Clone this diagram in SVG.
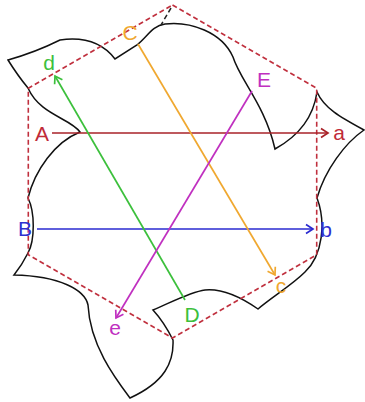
<svg xmlns="http://www.w3.org/2000/svg" width="365" height="402" viewBox="0 0 365 402">
<defs>
<style>
.lbl{font-family:"Liberation Sans",Arial,sans-serif;font-size:21px;text-anchor:middle}
.ln{fill:none;stroke-width:1.7}
</style>
<marker id="mA" markerUnits="userSpaceOnUse" markerWidth="12" markerHeight="12" refX="0" refY="0" viewBox="-9 -6 12 12" orient="auto"><path d="M-7,-4.5 L0,0 L-7,4.5" fill="none" stroke="#a82228" stroke-width="1.7"/></marker>
<marker id="mB" markerUnits="userSpaceOnUse" markerWidth="12" markerHeight="12" refX="0" refY="0" viewBox="-9 -6 12 12" orient="auto"><path d="M-7,-4.5 L0,0 L-7,4.5" fill="none" stroke="#2a2ad0" stroke-width="1.7"/></marker>
<marker id="mC" markerUnits="userSpaceOnUse" markerWidth="12" markerHeight="12" refX="0" refY="0" viewBox="-9 -6 12 12" orient="auto"><path d="M-7,-4.5 L0,0 L-7,4.5" fill="none" stroke="#f0a830" stroke-width="1.7"/></marker>
<marker id="mD" markerUnits="userSpaceOnUse" markerWidth="12" markerHeight="12" refX="0" refY="0" viewBox="-9 -6 12 12" orient="auto"><path d="M-7,-4.5 L0,0 L-7,4.5" fill="none" stroke="#3cc03c" stroke-width="1.7"/></marker>
<marker id="mE" markerUnits="userSpaceOnUse" markerWidth="12" markerHeight="12" refX="0" refY="0" viewBox="-9 -6 12 12" orient="auto"><path d="M-7,-4.5 L0,0 L-7,4.5" fill="none" stroke="#c030c0" stroke-width="1.7"/></marker>
</defs>
<rect width="365" height="402" fill="#ffffff"/>
<g id="outline">
<path fill="none" stroke="#111" stroke-width="1.5" d="M8,60 Q36,52 60,40 C88,36 105,46 115,59 L137,45 C148,36 152,26 165,24 C190,21 222,32 233,57 C240,80 265,105 275,149 C295,138 313,120 317,92 C324,108 340,117 364,130 C345,143 325,170 317,198 C326,222 323,255 305,272 C292,285 272,297 258,309 C245,300 225,288 205,290 C190,292 170,303 153,310 Q164,322 173,340 C174,362 165,382 130,398 C115,378 90,345 88,305 C85,290 60,276 14,275 Q22,265 28,253 C35,240 35,212 28,198 C35,170 55,142 80,132 C70,118 40,115 28,88 Q18,76 8,60 Z"/>
</g>
<g id="hexagon">
<polygon points="172.5,5 316.7,88.3 316.7,254.8 172.5,338 28.3,254.8 28.3,88.3" fill="none" stroke="#c0303e" stroke-width="1.6" stroke-dasharray="5,3"/>
<line x1="171" y1="8" x2="161" y2="25" stroke="#222" stroke-width="1.5" stroke-dasharray="5,3"/>
</g>
<g id="connectors">
<line class="ln" x1="52" y1="133" x2="328" y2="133" stroke="#a82228" marker-end="url(#mA)"/>
<line class="ln" x1="37" y1="229" x2="313" y2="229" stroke="#2a2ad0" marker-end="url(#mB)"/>
<line class="ln" x1="138" y1="44" x2="275" y2="275" stroke="#f0a830" marker-end="url(#mC)"/>
<line class="ln" x1="185" y1="300" x2="55" y2="76" stroke="#3cc03c" marker-end="url(#mD)"/>
<line class="ln" x1="252" y1="91" x2="116" y2="318" stroke="#c030c0" marker-end="url(#mE)"/>
</g>
<g id="labels">
<text class="lbl" x="42" y="141" fill="#c02a38">A</text>
<text class="lbl" x="339" y="140" fill="#c02a38">a</text>
<text class="lbl" x="25" y="236" fill="#3030d0">B</text>
<text class="lbl" x="326" y="237" fill="#3030d0">b</text>
<text class="lbl" x="130" y="40" fill="#f0a830">C</text>
<text class="lbl" x="281" y="293" fill="#f0a830">c</text>
<text class="lbl" x="192" y="322" fill="#3cc03c">D</text>
<text class="lbl" x="49" y="70" fill="#3cc03c">d</text>
<text class="lbl" x="264" y="87" fill="#c030c0">E</text>
<text class="lbl" x="115" y="335" fill="#c030c0">e</text>
</g>
</svg>
